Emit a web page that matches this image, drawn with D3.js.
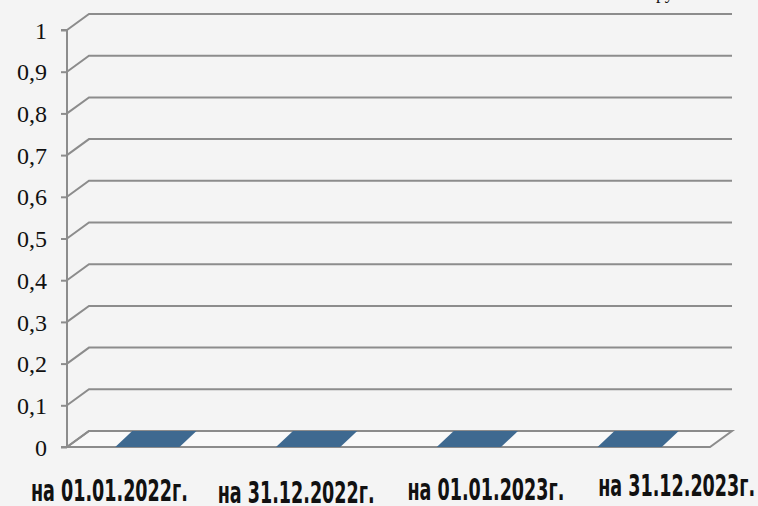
<!DOCTYPE html>
<html>
<head>
<meta charset="utf-8">
<script src="https://cdn.jsdelivr.net/npm/d3@7"></script>
<style>
  html, body { margin: 0; padding: 0; background: #f4f4f4; }
  svg { display: block; }
</style>
</head>
<body>
<svg id="chart" width="758" height="506"></svg>
<script>
// ---- data ----
const categories = ["на 01.01.2022г.", "на 31.12.2022г.", "на 01.01.2023г.", "на 31.12.2023г."];
const values = [0, 0, 0, 0];
const yTicks = [0, 0.1, 0.2, 0.3, 0.4, 0.5, 0.6, 0.7, 0.8, 0.9, 1];
const unitLabel = "тыс. руб.";

// ---- layout ----
const W = 758, H = 506;
const x0 = 67, x1 = 710;          // front plane extent
const yTop = 30, yBottom = 447;    // front plane y of 1 and 0
const depthX = 22, depthY = 16;    // 3D offset of back wall
const barDepthX = 17;
const gridColor = "#8c8c8c";
const barColor = "#3e6990";

const svg = d3.select("#chart");
svg.append("rect").attr("width", W).attr("height", H).attr("fill", "#f4f4f4");

const x = d3.scaleBand().domain(categories).range([x0, x1]).paddingInner(0.6).paddingOuter(0.3);
const y = d3.scaleLinear().domain([0, 1]).range([yBottom, yTop]);

// floor
const floorY = y(0);
svg.append("path")
  .attr("d", `M${x0},${floorY} L${x1},${floorY} L${x1 + depthX},${floorY - depthY} L${x0 + depthX},${floorY - depthY} Z`)
  .attr("fill", "#f9f9f9")
  .attr("stroke", gridColor)
  .attr("stroke-width", 2)
  .attr("stroke-linejoin", "miter");

// gridlines (side slant + back horizontal)
svg.append("g").selectAll("path").data(yTicks).join("path")
  .attr("d", d => `M${x0},${y(d)} L${x0 + depthX},${y(d) - depthY} L${x1 + depthX},${y(d) - depthY}`)
  .attr("fill", "none")
  .attr("stroke", gridColor)
  .attr("stroke-width", 2);

// y axis
const fmt = d => d3.format(".1~f")(d).replace(".", ",");
const yAxis = d3.axisLeft(y).tickValues(yTicks).tickFormat(fmt).tickSize(6).tickPadding(14);
const gy = svg.append("g").attr("transform", `translate(${x0},0)`).call(yAxis);
gy.attr("font-family", null).attr("font-size", null);
gy.select(".domain").attr("stroke", gridColor).attr("stroke-width", 2).attr("d", `M-6,${yTop}H0V${yBottom}H-6`);
gy.selectAll(".tick line").attr("stroke", gridColor).attr("stroke-width", 2);
gy.selectAll(".tick text")
  .style("font-family", "'Liberation Serif', 'Times New Roman', serif")
  .style("font-size", "24px")
  .attr("fill", "#111")
  .attr("dy", "0.34em");

// bars (zero height -> flat parallelogram on the floor)
svg.append("g").selectAll("path").data(values).join("path")
  .attr("d", (v, i) => {
    const bx = x(categories[i]), bw = x.bandwidth();
    const yf = y(v);
    return `M${bx},${yf} L${bx + bw},${yf} L${bx + bw + barDepthX},${yf - depthY} L${bx + barDepthX},${yf - depthY} Z`;
  })
  .attr("fill", barColor);

// category labels (condensed bold, horizontally squeezed to fit)
const labelDx = [-38, -12, 17, 47];
const labelBase = [501, 503, 500, 496];
const labelWidth = 157;
const lbl = svg.append("g").selectAll("g").data(categories).join("g")
  .attr("transform", (d, i) => `translate(${x(d) + x.bandwidth() / 2 + labelDx[i]},${labelBase[i]})`);
lbl.append("text")
  .attr("text-anchor", "middle")
  .style("font-family", "'DejaVu Sans Condensed', 'Liberation Sans Narrow', sans-serif")
  .style("font-weight", "bold")
  .style("font-size", "30px")
  .attr("fill", "#111")
  .text(d => d)
  .each(function () {
    const w = this.getComputedTextLength();
    d3.select(this).attr("transform", `scale(${labelWidth / w},1)`);
  });

// unit label (mostly cut off at top)
svg.append("text")
  .attr("x", 619).attr("y", -1)
  .style("font-family", "'Liberation Serif', 'Times New Roman', serif")
  .style("font-size", "18px")
  .attr("fill", "#111")
  .text(unitLabel);
</script>
</body>
</html>
